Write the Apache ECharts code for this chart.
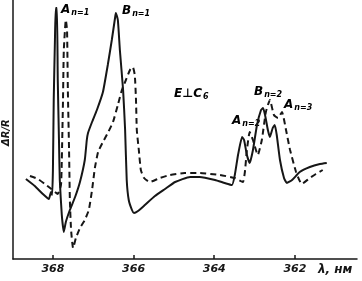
<!DOCTYPE html>
<html>
<head>
<meta charset="utf-8">
<script src="https://cdn.jsdelivr.net/npm/echarts@6/dist/echarts.min.js"></script>
<style>
  html, body { margin: 0; padding: 0; background: #fff; }
  #chart { width: 362px; height: 281px; }
</style>
</head>
<body>
<div id="chart"></div>
<script>
// ΔR/R spectra, E ⊥ C6 (arbitrary units)
var tickValues = [368, 366, 364, 362];

var solidLambda = [368.67, 368.45, 368.25, 368.10, 368.05, 368.02, 368.00, 367.98, 367.95, 367.93, 367.90, 367.88,
  367.85, 367.83, 367.78, 367.73, 367.68, 367.58, 367.45, 367.33, 367.21, 367.16, 367.13, 367.03, 366.91, 366.76,
  366.64, 366.54, 366.46, 366.44, 366.39, 366.34, 366.26, 366.21, 366.17, 366.12, 366.04, 365.99, 365.89, 365.72,
  365.47, 365.22, 364.97, 364.60, 364.36, 363.98, 363.74, 363.56, 363.49, 363.41, 363.31, 363.26, 363.19, 363.12,
  363.04, 362.94, 362.84, 362.79, 362.74, 362.67, 362.62, 362.55, 362.50, 362.45, 362.37, 362.27, 362.20, 362.07,
  361.88, 361.63, 361.38, 361.21];
var solidR = [80, 73, 65, 60, 67, 64, 89, 159, 219, 251, 251, 179,
  119, 79, 44, 27, 37, 49, 62, 77, 99, 119, 126, 137, 149, 167,
  194, 219, 241, 246, 239, 209, 169, 129, 79, 59, 49, 46, 48, 54,
  63, 70, 77, 82, 82, 79, 76, 74, 84, 104, 122, 119, 104, 96,
  109, 134, 149, 151, 144, 129, 122, 131, 134, 124, 99, 81, 76, 79,
  87, 92, 95, 96];

var dashLambda = [368.57, 368.37, 368.20, 368.07, 367.95, 367.88, 367.80, 367.78, 367.75, 367.73, 367.68, 367.65,
  367.63, 367.60, 367.58, 367.55, 367.50, 367.43, 367.33, 367.21, 367.11, 367.03, 366.96, 366.88, 366.76, 366.64,
  366.51, 366.39, 366.29, 366.19, 366.09, 366.02, 365.97, 365.94, 365.92, 365.87, 365.82, 365.74, 365.60, 365.35,
  365.10, 364.73, 364.36, 363.86, 363.49, 363.29, 363.24, 363.19, 363.12, 363.04, 362.92, 362.82, 362.72, 362.62,
  362.52, 362.42, 362.32, 362.22, 362.12, 361.97, 361.83, 361.63, 361.48, 361.31];
var dashR = [83, 80, 75, 71, 67, 65, 74, 99, 159, 209, 239, 229,
  169, 109, 59, 29, 11, 21, 31, 39, 49, 69, 91, 107, 117, 126,
  137, 154, 169, 179, 189, 192, 184, 159, 129, 109, 89, 81, 77, 81,
  84, 86, 86, 84, 81, 77, 87, 109, 127, 119, 104, 119, 147, 159,
  144, 141, 147, 129, 109, 87, 75, 81, 85, 89];

function pairs(xs, ys) {
  return xs.map(function (x, i) { return [x, ys[i]]; });
}

var myChart = echarts.init(document.getElementById('chart'));
var ink = '#161616';
var labelFont = 'italic bold 12px "DejaVu Sans"';
var rich = {
  b: { fontFamily: 'DejaVu Sans', fontStyle: 'italic', fontWeight: 'bold', fontSize: 12, color: ink },
  s: { fontFamily: 'DejaVu Sans', fontStyle: 'italic', fontWeight: 'bold', fontSize: 8, color: ink, padding: [6, 0, 0, 1] }
};
function tag(x, y, main, sub) {
  return { type: 'text', left: x, top: y, style: { text: '{b|' + main + '}{s|' + sub + '}', rich: rich } };
}

var option = {
  backgroundColor: '#fff',
  animation: false,
  grid: { left: 13, right: 5, top: 0, bottom: 22 },
  xAxis: {
    type: 'value',
    inverse: true,
    min: 360.46,
    max: 368.99,
    axisLine: { lineStyle: { color: ink, width: 1.5 } },
    axisTick: { inside: true, length: 4, customValues: tickValues, lineStyle: { color: ink, width: 1.5 } },
    axisLabel: {
      customValues: tickValues, margin: 5, color: ink,
      fontFamily: 'DejaVu Sans', fontStyle: 'italic', fontWeight: 'bold', fontSize: 11
    },
    splitLine: { show: false }
  },
  yAxis: {
    type: 'value',
    min: 0,
    max: 259,
    axisLine: { show: true, lineStyle: { color: ink, width: 1.5 } },
    axisTick: { show: false },
    axisLabel: { show: false },
    splitLine: { show: false }
  },
  series: [
    {
      type: 'line', data: pairs(solidLambda, solidR), showSymbol: false, smooth: 0.15,
      lineStyle: { color: ink, width: 2 }
    },
    {
      type: 'line', data: pairs(dashLambda, dashR), showSymbol: false, smooth: 0.15,
      lineStyle: { color: ink, width: 2, type: [6, 4] }
    }
  ],
  graphic: [
    tag(61, 4, 'A', 'n=1'),
    tag(122, 5, 'B', 'n=1'),
    tag(174, 88, 'E⊥C', '6'),
    tag(254, 86, 'B', 'n=2'),
    tag(284, 99, 'A', 'n=3'),
    tag(232, 115, 'A', 'n=2'),
    { type: 'text', left: 318, top: 264, style: { text: 'λ, нм', font: labelFont, fill: ink } },
    { type: 'text', x: 1, y: 146, rotation: Math.PI / 2, style: { text: 'ΔR/R', font: 'italic bold 10px "DejaVu Sans"', fill: ink } }
  ]
};
myChart.setOption(option);
window.addEventListener('resize', function () {
  myChart.resize();
});
</script>
</body>
</html>
